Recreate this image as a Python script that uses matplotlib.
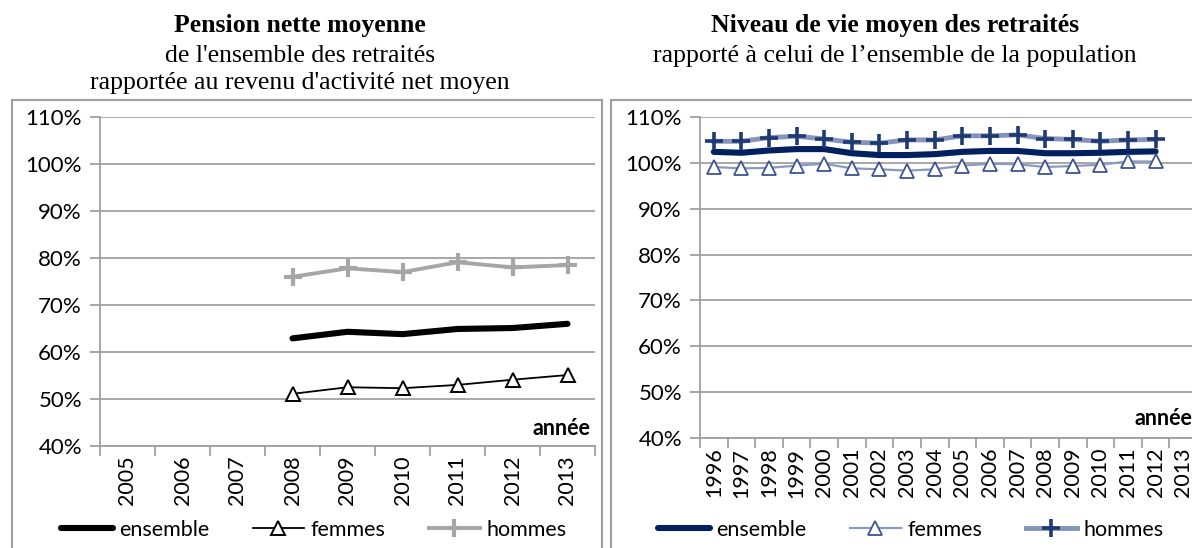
import numpy as np
import matplotlib
matplotlib.use('Agg')
import matplotlib.pyplot as plt
from matplotlib.patches import Rectangle
from matplotlib.ticker import FixedLocator, PercentFormatter

plt.rcParams['font.family'] = ['Lato', 'DejaVu Sans']

# left panel : pension nette moyenne / revenu d'activite net moyen
years_left = ['2005', '2006', '2007', '2008', '2009', '2010', '2011', '2012', '2013']
left_ensemble = [None, None, None, 62.9, 64.3, 63.8, 64.9, 65.1, 66.0]
left_femmes = [None, None, None, 51.1, 52.5, 52.3, 53.0, 54.1, 55.1]
left_hommes = [None, None, None, 76.0, 77.8, 77.0, 79.1, 78.0, 78.5]

# right panel : niveau de vie moyen des retraites / ensemble de la population
years_right = [str(y) for y in range(1996, 2014)]
right_ensemble = [102.4, 102.2, 102.7, 103.0, 103.0, 102.1, 101.7, 101.7, 101.9, 102.4,
                  102.6, 102.6, 102.1, 102.1, 102.2, 102.4, 102.5, None]
right_femmes = [99.1, 98.8, 98.9, 99.4, 99.8, 98.8, 98.6, 98.3, 98.6, 99.4,
                99.8, 99.7, 99.1, 99.3, 99.6, 100.3, 100.3, None]
right_hommes = [104.7, 104.7, 105.5, 105.8, 105.2, 104.5, 104.3, 105.0, 105.0, 105.9,
                105.9, 106.1, 105.3, 105.1, 104.7, 105.0, 105.1, None]

GRID = '#a0a0a0'
NAVY = '#002060'


def arr(vals):
  return np.array([np.nan if v is None else v for v in vals], dtype=float)


def setup_axes(ax, labels, annee_y):
  n = len(labels)
  ax.set_xlim(-0.5, n - 0.5)
  ax.set_ylim(40, 110)
  ax.set_yticks(np.arange(40, 111, 10))
  ax.yaxis.set_major_formatter(PercentFormatter(decimals=0))
  ax.grid(axis='y', color=GRID, linewidth=1.3)
  ax.set_axisbelow(True)
  for s in ['top', 'right']:
    ax.spines[s].set_visible(False)
  for s in ['left', 'bottom']:
    ax.spines[s].set_color(GRID)
    ax.spines[s].set_linewidth(1.3)
  ax.xaxis.set_major_locator(FixedLocator(np.arange(-0.5, n, 1.0)))
  ax.xaxis.set_minor_locator(FixedLocator(np.arange(n)))
  ax.set_xticklabels([], minor=False)
  ax.set_xticklabels(labels, minor=True, rotation=90)
  ax.tick_params(axis='x', which='major', length=7, color=GRID, width=1.3)
  ax.tick_params(axis='x', which='minor', length=0, pad=7, labelsize=15.5)
  ax.tick_params(axis='y', length=7, color=GRID, width=1.3, labelsize=16, pad=6)
  ax.text(0.99, annee_y, 'année', transform=ax.transAxes, ha='right', va='baseline',
          fontsize=15.5, fontweight='bold')


fig = plt.figure(figsize=(11.92, 5.48), dpi=100)

# panel frames
for x0, w in [(12, 590), (611, 600)]:
  fig.patches.append(Rectangle((x0 / 1192, -0.05), w / 1192, 1 - 100 / 548 + 0.05,
                               transform=fig.transFigure, fill=False,
                               edgecolor=GRID, linewidth=1.5))

ax1 = fig.add_axes([100 / 1192, 1 - 446 / 548, 495 / 1192, 329 / 548])
ax2 = fig.add_axes([700 / 1192, 1 - 438 / 548, 497 / 1192, 321 / 548])

xl = np.arange(len(years_left))
ax1.plot(xl, arr(left_ensemble), color='black', linewidth=4.4,
         solid_capstyle='round', solid_joinstyle='round', label='ensemble')
ax1.plot(xl, arr(left_femmes), color='black', linewidth=1.3, marker='^',
         markersize=10, markerfacecolor='white', markeredgecolor='black',
         markeredgewidth=1.4, label='femmes')
ax1.plot(xl, arr(left_hommes), color='#a6a6a6', linewidth=2.8, marker='+',
         markersize=13, markeredgewidth=3, label='hommes')
setup_axes(ax1, years_left, 0.034)

xr = np.arange(len(years_right))
ax2.plot(xr, arr(right_ensemble), color=NAVY, linewidth=4.4,
         solid_capstyle='round', solid_joinstyle='round', label='ensemble')
ax2.plot(xr, arr(right_femmes), color='#8a9bc0', linewidth=1.6, marker='^',
         markersize=10, markerfacecolor='white', markeredgecolor='#3d5490',
         markeredgewidth=1.3, label='femmes')
ax2.plot(xr, arr(right_hommes), color='#8594ba', linewidth=3.5, marker='+',
         markersize=13, markeredgecolor='#1f3a72', markeredgewidth=2.6,
         label='hommes')
setup_axes(ax2, years_right, 0.04)

for ax, cx in [(ax1, 314), (ax2, 911)]:
  ax.legend(loc='center', bbox_to_anchor=(cx / 1192, 1 - 530 / 548),
            bbox_transform=fig.transFigure, ncol=3, frameon=False, fontsize=15.5,
            handlelength=2.4, handletextpad=0.3, columnspacing=2.0)

# titles
serif = ['Liberation Serif', 'DejaVu Serif']
tkw = dict(ha='center', va='baseline', family=serif, fontsize=18.5)
fig.text(300 / 1192, 1 - 32 / 548, 'Pension nette moyenne', fontweight='bold', **tkw)
fig.text(300 / 1192, 1 - 62 / 548, "de l'ensemble des retraités", **tkw)
fig.text(300 / 1192, 1 - 89 / 548, "rapportée au revenu d'activité net moyen", **tkw)
fig.text(895 / 1192, 1 - 32 / 548, 'Niveau de vie moyen des retraités',
         fontweight='bold', **tkw)
fig.text(895 / 1192, 1 - 62 / 548, 'rapporté à celui de l\u2019ensemble de la population',
         **tkw)

fig.savefig('out.png', dpi=100)
